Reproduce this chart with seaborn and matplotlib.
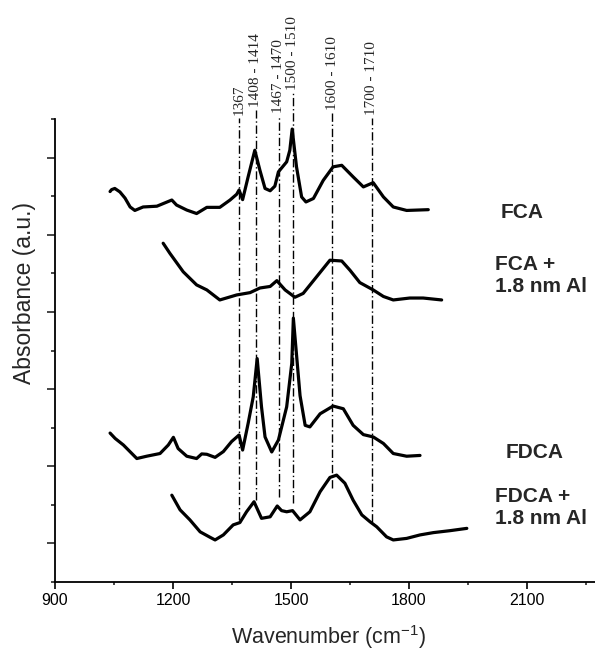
import matplotlib
matplotlib.use("Agg")
import matplotlib.pyplot as plt
from matplotlib.ticker import FixedLocator
import pandas as pd
import seaborn as sns

# FTIR spectra (wavenumber in cm-1, absorbance in arbitrary units, offset per sample)
fca_x = [1040, 1044, 1052, 1065, 1078, 1091, 1103, 1124, 1159, 1197, 1209, 1235, 1260,
         1286, 1319, 1345, 1362, 1368, 1377, 1391, 1408, 1421, 1434, 1447, 1459, 1468,
         1489, 1497, 1503, 1514, 1527, 1538, 1557, 1582, 1607, 1629, 1658, 1684, 1709,
         1735, 1760, 1794, 1849]
fca_y = [10.12, 10.17, 10.20, 10.11, 9.95, 9.72, 9.63, 9.72, 9.74, 9.90, 9.77, 9.64, 9.55,
         9.71, 9.71, 9.90, 10.05, 10.16, 9.91, 10.50, 11.19, 10.67, 10.20, 10.14, 10.26,
         10.63, 10.89, 11.19, 11.74, 10.76, 9.98, 9.85, 9.94, 10.41, 10.76, 10.80, 10.50,
         10.24, 10.35, 9.98, 9.72, 9.63, 9.65]

fca_al_x = [1175, 1192, 1226, 1260, 1286, 1319, 1362, 1396, 1421, 1447, 1464, 1485, 1510,
            1531, 1565, 1599, 1629, 1650, 1675, 1709, 1735, 1760, 1802, 1836, 1883]
fca_al_y = [8.78, 8.52, 8.04, 7.70, 7.57, 7.31, 7.44, 7.50, 7.62, 7.66, 7.81, 7.57, 7.38,
            7.48, 7.91, 8.34, 8.32, 8.08, 7.76, 7.57, 7.40, 7.31, 7.36, 7.36, 7.31]

fdca_x = [1040, 1053, 1074, 1108, 1133, 1167, 1188, 1201, 1213, 1235, 1260, 1273, 1286,
          1307, 1328, 1349, 1368, 1377, 1391, 1404, 1414, 1425, 1434, 1451, 1468, 1489,
          1502, 1506, 1523, 1536, 1548, 1574, 1607, 1633, 1658, 1684, 1709, 1735, 1760,
          1794, 1828]
fdca_y = [3.86, 3.72, 3.55, 3.20, 3.26, 3.33, 3.55, 3.75, 3.46, 3.26, 3.20, 3.32, 3.31,
          3.23, 3.38, 3.64, 3.81, 3.42, 4.11, 4.80, 5.79, 4.54, 3.76, 3.37, 3.68, 4.54,
          5.67, 6.84, 4.83, 4.06, 4.02, 4.36, 4.56, 4.49, 4.06, 3.82, 3.76, 3.59, 3.33,
          3.26, 3.28]

fdca_al_x = [1197, 1218, 1243, 1269, 1294, 1307, 1328, 1353, 1370, 1387, 1406, 1425, 1447,
             1465, 1476, 1489, 1504, 1523, 1548, 1574, 1599, 1616, 1637, 1658, 1680, 1701,
             1718, 1743, 1760, 1794, 1828, 1862, 1904, 1947]
fdca_al_y = [2.25, 1.87, 1.61, 1.30, 1.16, 1.09, 1.22, 1.48, 1.54, 1.82, 2.08, 1.65, 1.69,
             1.97, 1.85, 1.82, 1.85, 1.61, 1.82, 2.34, 2.71, 2.77, 2.56, 2.12, 1.74, 1.56,
             1.43, 1.17, 1.09, 1.13, 1.22, 1.28, 1.33, 1.39]

# Band assignments marked with vertical guide lines
band_labels = ["1367", "1408 - 1414", "1467 - 1470", "1500 - 1510", "1600 - 1610", "1700 - 1710"]
band_pos = [1367, 1411, 1468.5, 1505, 1605, 1705]
band_label_y = [12.10, 12.31, 12.15, 12.75, 12.23, 12.10]
band_line_bottom = [1.60, 2.12, 2.20, 2.05, 2.44, 1.55]

sample_names = ["FCA", "FCA +\n1.8 nm Al", "FDCA", "FDCA +\n1.8 nm Al"]
sample_label_xy = [(501, 212), (495, 275.5), (506, 453), (495, 507.5)]

xtick_major = [900, 1200, 1500, 1800, 2100]
xtick_minor = [1050, 1350, 1650, 1950, 2250]

frames = []
for name, xs, ys in zip(sample_names,
                        [fca_x, fca_al_x, fdca_x, fdca_al_x],
                        [fca_y, fca_al_y, fdca_y, fdca_al_y]):
    frames.append(pd.DataFrame({"wavenumber": xs, "absorbance": ys, "sample": name}))
spectra = pd.concat(frames, ignore_index=True)

sns.set_theme(style="ticks")
plt.rcParams["font.family"] = ["Liberation Sans", "DejaVu Sans"]
plt.rcParams["mathtext.fontset"] = "custom"
plt.rcParams["mathtext.rm"] = "Liberation Sans"
plt.rcParams["mathtext.default"] = "regular"

W, H = 595, 650
fig = plt.figure(figsize=(W / 100, H / 100), dpi=100)
ax = fig.add_axes([55 / W, 68 / H, 590 / W, 463 / H])

sns.lineplot(data=spectra, x="wavenumber", y="absorbance", units="sample",
             estimator=None, sort=False, color="black", lw=2.3, ax=ax, legend=False)

ax.set_xlim(900, 2400)
ax.set_ylim(0, 12)

# guide lines and rotated band labels
for lab, xpos, ytop, ybot in zip(band_labels, band_pos, band_label_y, band_line_bottom):
    ax.plot([xpos, xpos], [ybot, ytop - 0.08], color="black", lw=1.0,
            linestyle=(0, (6, 2, 1, 2)), clip_on=False, zorder=1)
    ax.text(xpos, ytop, lab, rotation=90, ha="center", va="bottom",
            family="Liberation Serif", fontsize=11, clip_on=False)

for name, (px, py) in zip(sample_names, sample_label_xy):
    fig.text(px / W, 1 - py / H, name, ha="left", va="center",
             fontsize=15, fontweight="bold", linespacing=1.2)

sns.despine(ax=ax)
for side in ("left", "bottom"):
    ax.spines[side].set_linewidth(1.3)
    ax.spines[side].set_color("black")

ax.xaxis.set_major_locator(FixedLocator(xtick_major))
ax.xaxis.set_minor_locator(FixedLocator(xtick_minor))
ax.yaxis.set_major_locator(FixedLocator([1, 3, 5, 7, 9, 11]))
ax.yaxis.set_minor_locator(FixedLocator([0, 2, 4, 6, 8, 10, 12]))
ax.set_yticklabels([])
ax.tick_params(axis="x", which="major", direction="out", length=5, width=1.2,
               labelsize=11.5, pad=3, colors="black")
ax.tick_params(axis="x", which="minor", direction="out", length=2.5, width=1.2)
ax.tick_params(axis="y", which="major", direction="out", length=6, width=1.2)
ax.tick_params(axis="y", which="minor", direction="out", length=3, width=1.2)

ax.set_xlabel("Wavenumber (cm$^{-1}$)", fontsize=15.5)
ax.xaxis.label.set_va("center")
ax.xaxis.set_label_coords((329 - 55) / 590, (582 - 637) / 463)
ax.set_ylabel("Absorbance (a.u.)", fontsize=16.5)
ax.yaxis.label.set_va("center")
ax.yaxis.set_label_coords((25 - 55) / 590, (582 - 293) / 463)

fig.savefig("out.png", dpi=100)
